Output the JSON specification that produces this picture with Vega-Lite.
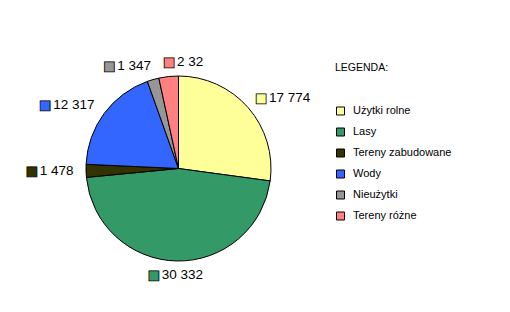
{
  "$schema": "https://vega.github.io/schema/vega-lite/v6.json",
  "width": 357,
  "height": 287,
  "autosize": {"type": "none"},
  "padding": {"left": 0, "top": 25, "right": 153, "bottom": 0},
  "background": "white",
  "config": {"view": {"stroke": null}, "font": "Liberation Sans"},
  "data": {
    "values": [
      {"n": 1, "category": "Użytki rolne", "value": 17774, "label": "17 774"},
      {"n": 2, "category": "Lasy", "value": 30332, "label": "30 332"},
      {"n": 3, "category": "Tereny zabudowane", "value": 1478, "label": "1 478"},
      {"n": 4, "category": "Wody", "value": 12317, "label": "12 317"},
      {"n": 5, "category": "Nieużytki", "value": 1347, "label": "1 347"},
      {"n": 6, "category": "Tereny różne", "value": 2232, "label": "2 32"}
    ]
  },
  "transform": [{"joinaggregate": [{"op": "sum", "field": "value", "as": "total"}]}],
  "encoding": {
    "theta": {"field": "value", "type": "quantitative", "stack": true},
    "order": {"field": "n", "type": "quantitative"}
  },
  "layer": [
    {
      "mark": {"type": "arc", "outerRadius": 92.5, "stroke": "black", "strokeWidth": 1},
      "encoding": {
        "color": {
          "field": "category",
          "type": "nominal",
          "sort": ["Użytki rolne", "Lasy", "Tereny zabudowane", "Wody", "Nieużytki", "Tereny różne"],
          "scale": {
            "domain": ["Użytki rolne", "Lasy", "Tereny zabudowane", "Wody", "Nieużytki", "Tereny różne"],
            "range": ["#FFFF99", "#339966", "#333300", "#3366FF", "#969696", "#FF8080"]
          },
          "legend": {
            "title": "LEGENDA:",
            "orient": "none",
            "legendX": 335,
            "legendY": 38,
            "padding": 0,
            "titleFont": "Liberation Sans",
            "titleFontSize": 10.5,
            "titleFontWeight": "normal",
            "titleColor": "black",
            "titlePadding": 32,
            "labelFont": "Liberation Sans",
            "labelFontSize": 11,
            "labelColor": "black",
            "symbolType": "square",
            "symbolSize": 64,
            "symbolStrokeColor": "black",
            "symbolStrokeWidth": 1,
            "symbolOpacity": 1,
            "rowPadding": 8,
            "labelOffset": 7
          }
        }
      }
    },
    {
      "mark": {
        "type": "text",
        "radius": 107,
        "font": "DejaVu Sans",
        "fontSize": 13,
        "stroke": "black",
        "strokeWidth": 0.8,
        "align": "center",
        "baseline": "middle",
        "dx": {"expr": "((datum.value_start+datum.value_end)/(2*datum.total) > 0.97 || (datum.value_start+datum.value_end)/(2*datum.total) < 0.47) ? 2 : ((datum.value_start+datum.value_end)/(2*datum.total) < 0.53 ? -(3.75*(length(datum.label)+length(replace(datum.label,' ',''))))/2 - 2 : -(3.75*(length(datum.label)+length(replace(datum.label,' ','')))) - 6)"}
      },
      "encoding": {
        "text": {"value": "■"},
        "color": {
          "field": "category",
          "type": "nominal",
          "sort": ["Użytki rolne", "Lasy", "Tereny zabudowane", "Wody", "Nieużytki", "Tereny różne"],
          "legend": null
        }
      }
    },
    {
      "mark": {
        "type": "text",
        "radius": 107,
        "font": "Liberation Sans",
        "fontSize": 13.5,
        "fill": "black",
        "baseline": "middle",
        "align": {"expr": "((datum.value_start+datum.value_end)/(2*datum.total) > 0.97 || (datum.value_start+datum.value_end)/(2*datum.total) < 0.47) ? 'left' : ((datum.value_start+datum.value_end)/(2*datum.total) < 0.53 ? 'center' : 'right')"},
        "dx": {"expr": "((datum.value_start+datum.value_end)/(2*datum.total) > 0.97 || (datum.value_start+datum.value_end)/(2*datum.total) < 0.47) ? 10 : ((datum.value_start+datum.value_end)/(2*datum.total) < 0.53 ? 6 : 2)"}
      },
      "encoding": {
        "text": {"field": "label", "type": "nominal"}
      }
    }
  ]
}
